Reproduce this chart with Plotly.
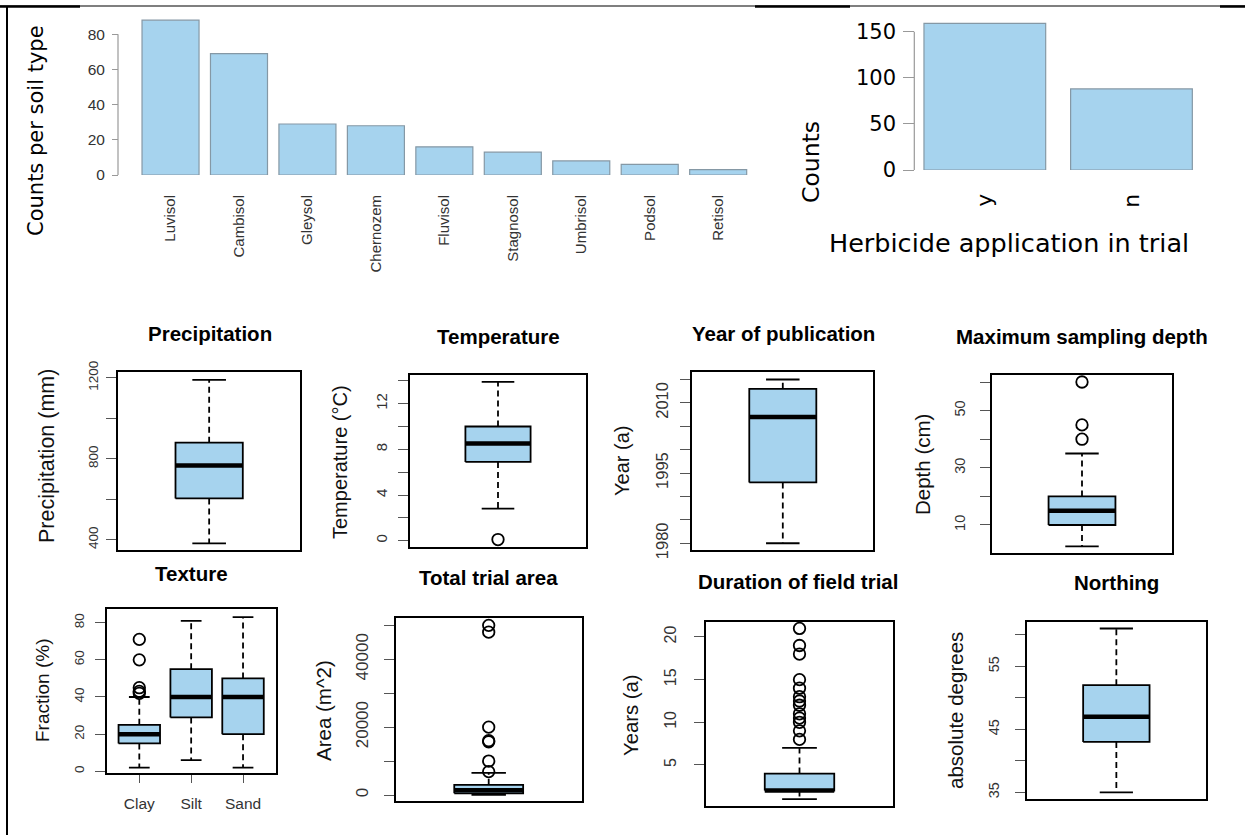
import plotly.graph_objects as go

W, H = 1245, 837

# ---------------- data ----------------
soil_types = ["Luvisol", "Cambisol", "Gleysol", "Chernozem", "Fluvisol",
              "Stagnosol", "Umbrisol", "Podsol", "Retisol"]
soil_counts = [88, 69, 29, 28, 16, 13, 8, 6, 3]

herb_labels = ["y", "n"]
herb_counts = [159, 88]

# box statistics: [lower whisker, Q1, median, Q3, upper whisker]
precip_stats = [382, 604, 767, 879, 1189]
precip_out = []
temp_stats = [2.8, 6.9, 8.5, 10.0, 13.9]
temp_out = [0.1]
year_stats = [1980, 1993, 2007, 2013, 2015]
year_out = []
depth_stats = [2.5, 10, 15, 20, 35]
depth_out = [40, 45, 60]
texture_groups = ["Clay", "Silt", "Sand"]
clay_stats = [2, 15, 20, 25, 40]
clay_out = [42, 43, 45, 60, 71]
silt_stats = [6, 29, 40, 55, 81]
silt_out = []
sand_stats = [2, 20, 40, 50, 83]
sand_out = []
area_stats = [50, 500, 1400, 3000, 6500]
area_out = [6900, 10000, 15700, 16000, 20000, 48000, 50000]
duration_stats = [1, 2, 2, 4, 7]
duration_out = [8, 9, 10, 10.5, 11, 12, 12.5, 13, 14, 15, 18, 19, 21]
north_stats = [35, 43, 47, 52, 61]
north_out = []

# ---------------- style ----------------
BLUE = "#A6D3EE"
BAR_EDGE = "#8598a5"
ARIAL = "Liberation Sans, Arial, sans-serif"
VERD = "DejaVu Sans, Verdana, sans-serif"
TICKC = "#333333"


def xd(a, b):
    return [a / W, b / W]


def yd(top, bottom):
    return [1 - bottom / H, 1 - top / H]


fig = go.Figure()
layout = dict(width=W, height=H, margin=dict(l=0, r=0, t=0, b=0),
              paper_bgcolor="white", plot_bgcolor="rgba(0,0,0,0)",
              showlegend=False, template="none")
shapes = []
annotations = []

# ---------------- bar chart 1: soil types ----------------
fig.add_trace(go.Bar(x=soil_types, y=soil_counts, xaxis="x", yaxis="y",
                     width=0.833, marker=dict(color=BLUE, line=dict(color=BAR_EDGE, width=1.2))))
layout["xaxis"] = dict(domain=xd(136.3, 752.4), range=[-0.5, 8.5], type="category",
                       anchor="y", showline=False, showgrid=False, zeroline=False,
                       ticks="outside", ticklen=13, tickcolor="rgba(0,0,0,0)",
                       tickangle=-90, tickfont=dict(family=ARIAL, size=15, color=TICKC))
layout["yaxis"] = dict(domain=yd(16.7, 175), range=[0, 90], anchor="free", position=118 / W,
                       showline=False, showgrid=False, zeroline=False,
                       tickvals=[0, 20, 40, 60, 80], ticks="outside", ticklen=6, tickcolor="#999999",
                       tickfont=dict(family=ARIAL, size=15.5, color=TICKC), ticklabelstandoff=4)
shapes.append(dict(type="line", xref="paper", yref="y", x0=118 / W, x1=118 / W, y0=0, y1=80,
                   line=dict(color="#999999", width=1.2)))
annotations.append(dict(text="Counts per soil type", x=36 / W, y=1 - 131 / H, xref="paper", yref="paper",
                        textangle=-90, showarrow=False, xanchor="center", yanchor="middle",
                        font=dict(family=VERD, size=21, color="black")))

# ---------------- bar chart 2: herbicide ----------------
fig.add_trace(go.Bar(x=herb_labels, y=herb_counts, xaxis="x2", yaxis="y2",
                     width=0.83, marker=dict(color=BLUE, line=dict(color=BAR_EDGE, width=1.2))))
layout["xaxis2"] = dict(domain=xd(911.5, 1204.8), range=[-0.5, 1.5], type="category",
                        anchor="y2", showline=False, showgrid=False, zeroline=False,
                        ticks="outside", ticklen=14, tickcolor="rgba(0,0,0,0)",
                        tickangle=-90, tickfont=dict(family=VERD, size=22, color="black"))
layout["yaxis2"] = dict(domain=yd(13.3, 170), range=[0, 170], anchor="free", position=914.3 / W,
                        showline=False, showgrid=False, zeroline=False,
                        tickvals=[0, 50, 100, 150], ticks="outside", ticklen=11, tickcolor="#999999",
                        tickfont=dict(family=VERD, size=21, color="black"), ticklabelstandoff=3)
shapes.append(dict(type="line", xref="paper", yref="y2", x0=914.3 / W, x1=914.3 / W, y0=0, y1=150,
                   line=dict(color="#999999", width=1.2)))
annotations.append(dict(text="Counts", x=811 / W, y=1 - 162 / H, xref="paper", yref="paper",
                        textangle=-90, showarrow=False, xanchor="center", yanchor="middle",
                        font=dict(family=VERD, size=23.5, color="black")))
annotations.append(dict(text="Herbicide application in trial", x=1009 / W, y=1 - 243 / H,
                        xref="paper", yref="paper", showarrow=False, xanchor="center", yanchor="middle",
                        font=dict(family=VERD, size=25.5, color="black")))


# ---------------- box plots ----------------
def add_box(xc, st, out, w, xa, ya):
    lo, q1, med, q3, hi = st
    fig.add_trace(go.Scatter(x=[xc, xc, None, xc, xc], y=[q3, hi, None, q1, lo], mode="lines",
                             xaxis=xa, yaxis=ya, hoverinfo="skip",
                             line=dict(color="black", width=1.8, dash="6px,4px")))
    fig.add_trace(go.Scatter(x=[xc - w / 4, xc + w / 4, None, xc - w / 4, xc + w / 4],
                             y=[hi, hi, None, lo, lo], mode="lines", xaxis=xa, yaxis=ya,
                             hoverinfo="skip", line=dict(color="black", width=1.8)))
    fig.add_trace(go.Scatter(x=[xc - w / 2, xc + w / 2, xc + w / 2, xc - w / 2, xc - w / 2],
                             y=[q1, q1, q3, q3, q1], mode="lines", fill="toself", fillcolor=BLUE,
                             xaxis=xa, yaxis=ya, line=dict(color="black", width=1.8)))
    fig.add_trace(go.Scatter(x=[xc - w / 2, xc + w / 2], y=[med, med], mode="lines",
                             xaxis=xa, yaxis=ya, line=dict(color="black", width=4.5)))
    if out:
        fig.add_trace(go.Scatter(x=[xc] * len(out), y=out, mode="markers", xaxis=xa, yaxis=ya,
                                 cliponaxis=False,
                                 marker=dict(symbol="circle-open", size=11.5, color="black",
                                             line=dict(width=1.8, color="black"))))


panels = [
    dict(k=3, fr=(118.3, 300, 372.3, 550), yr=[349.1, 1226.7],
         tv=[400, 600, 800, 1000, 1200], tt=["400", "", "800", "", "1200"], fs=13.5, so=3,
         title="Precipitation", tp=(209.5, 333), ylab="Precipitation (mm)", yp=(47, 456), ls=21.5,
         boxes=[(1, precip_stats, precip_out)]),
    dict(k=4, fr=(410, 586, 375, 547.3), yr=[-0.58, 14.51],
         tv=[0, 2, 4, 6, 8, 10, 12, 14], tt=["0", "", "4", "", "8", "", "12", ""], fs=15, so=5,
         title="Temperature", tp=(498, 336), ylab="Temperature (°C)", yp=(340, 462), ls=20,
         boxes=[(1, temp_stats, temp_out)]),
    dict(k=5, fr=(692.3, 873.3, 372.3, 550), yr=[1978.56, 2016.54],
         tv=[1980, 1985, 1990, 1995, 2000, 2005, 2010, 2015],
         tt=["1980", "", "", "1995", "", "", "2010", ""], fs=16.5, so=6,
         title="Year of publication", tp=(783, 333), ylab="Year (a)", yp=(622, 461), ls=20,
         boxes=[(1, year_stats, year_out)]),
    dict(k=6, fr=(991.7, 1172.3, 375, 553.3), yr=[0.1, 62.45],
         tv=[10, 20, 30, 40, 50, 60], tt=["10", "", "30", "", "50", ""], fs=14.5, so=9,
         title="Maximum sampling depth", tp=(1081.5, 336), ylab="Depth (cm)", yp=(922, 464), ls=20.5,
         boxes=[(1, depth_stats, depth_out)]),
    dict(k=7, fr=(107.3, 275.7, 609.3, 773.3), yr=[-1.07, 87.2],
         tv=[0, 20, 40, 60, 80], tt=["0", "20", "40", "60", "80"], fs=13.5, so=6,
         title="Texture", tp=(191, 573), ylab="Fraction (%)", yp=(42, 691), ls=19,
         boxes=[(1, clay_stats, clay_out), (2, silt_stats, silt_out), (3, sand_stats, sand_out)]),
    dict(k=8, fr=(395.7, 581.7, 618.3, 800.7), yr=[-1680, 52080],
         tv=[0, 10000, 20000, 30000, 40000, 50000], tt=["0", "", "20000", "", "40000", ""], fs=17, so=9,
         title="Total trial area", tp=(488.7, 577), ylab="Area (m^2)", yp=(323, 711), ls=20.5,
         boxes=[(1, area_stats, area_out)]),
    dict(k=9, fr=(705.7, 893.3, 621.7, 805.7), yr=[0.23, 21.79],
         tv=[5, 10, 15, 20], tt=["5", "10", "15", "20"], fs=16, so=11,
         title="Duration of field trial", tp=(798, 581), ylab="Years (a)", yp=(631, 715), ls=20.3,
         boxes=[(1, duration_stats, duration_out)]),
    dict(k=10, fr=(1026.7, 1206, 621.7, 799), yr=[33.94, 62.08],
         tv=[35, 40, 45, 50, 55, 60], tt=["35", "", "45", "", "55", ""], fs=14.5, so=10,
         title="Northing", tp=(1116, 582), ylab="absolute degrees", yp=(955, 711), ls=20.5,
         boxes=[(1, north_stats, north_out)]),
]

for p in panels:
    k = p["k"]
    x0, x1, top, bot = p["fr"]
    xa, ya = f"x{k}", f"y{k}"
    multi = len(p["boxes"]) > 1
    if multi:
        xr = [0.383, 3.63]
        bw = 0.8
    else:
        xr = [0.46, 1.54]
        bw = 0.4
    for xc, st, out in p["boxes"]:
        add_box(xc, st, out, bw, xa, ya)
    xaxis = dict(domain=xd(x0, x1), range=xr, anchor=ya, showline=True, mirror=True,
                 linecolor="black", linewidth=2, showgrid=False, zeroline=False)
    if multi:
        xaxis.update(tickvals=[1, 2, 3], ticktext=texture_groups, ticks="outside", ticklen=8,
                     tickcolor="#555555", tickfont=dict(family=ARIAL, size=15.5, color=TICKC),
                     ticklabelstandoff=7)
    else:
        xaxis.update(showticklabels=False, ticks="")
    layout[f"xaxis{k}"] = xaxis
    layout[f"yaxis{k}"] = dict(domain=yd(top, bot), range=p["yr"], anchor=xa, showline=True,
                               mirror=True, linecolor="black", linewidth=2, showgrid=False,
                               zeroline=False, tickvals=p["tv"], ticktext=p["tt"], ticks="outside",
                               ticklen=10, tickcolor="#555555", tickangle=-90,
                               tickfont=dict(family=ARIAL, size=p["fs"], color=TICKC),
                               ticklabelstandoff=p["so"])
    annotations.append(dict(text="<b>" + p["title"] + "</b>", x=p["tp"][0] / W, y=1 - p["tp"][1] / H,
                            xref="paper", yref="paper", showarrow=False, xanchor="center",
                            yanchor="middle", font=dict(family=ARIAL, size=20.5, color="black")))
    annotations.append(dict(text=p["ylab"], x=p["yp"][0] / W, y=1 - p["yp"][1] / H,
                            xref="paper", yref="paper", showarrow=False, textangle=-90,
                            xanchor="center", yanchor="middle",
                            font=dict(family=ARIAL, size=p["ls"], color="#111111")))

# outer frame lines of the composite figure
shapes.append(dict(type="line", xref="paper", yref="paper", x0=7 / W, x1=7 / W,
                   y0=1 - 6 / H, y1=1 - 835 / H, line=dict(color="black", width=2)))
shapes.append(dict(type="line", xref="paper", yref="paper", x0=0, x1=1,
                   y0=1 - 6 / H, y1=1 - 6 / H, line=dict(color="black", width=1.2)))
for a, b in [(0, 80), (755, 850), (1220, 1245)]:
    shapes.append(dict(type="line", xref="paper", yref="paper", x0=a / W, x1=b / W,
                       y0=1 - 6.5 / H, y1=1 - 6.5 / H, line=dict(color="black", width=2.5)))

layout["shapes"] = shapes
layout["annotations"] = annotations
fig.update_layout(**layout)
fig.write_html("out.html")
